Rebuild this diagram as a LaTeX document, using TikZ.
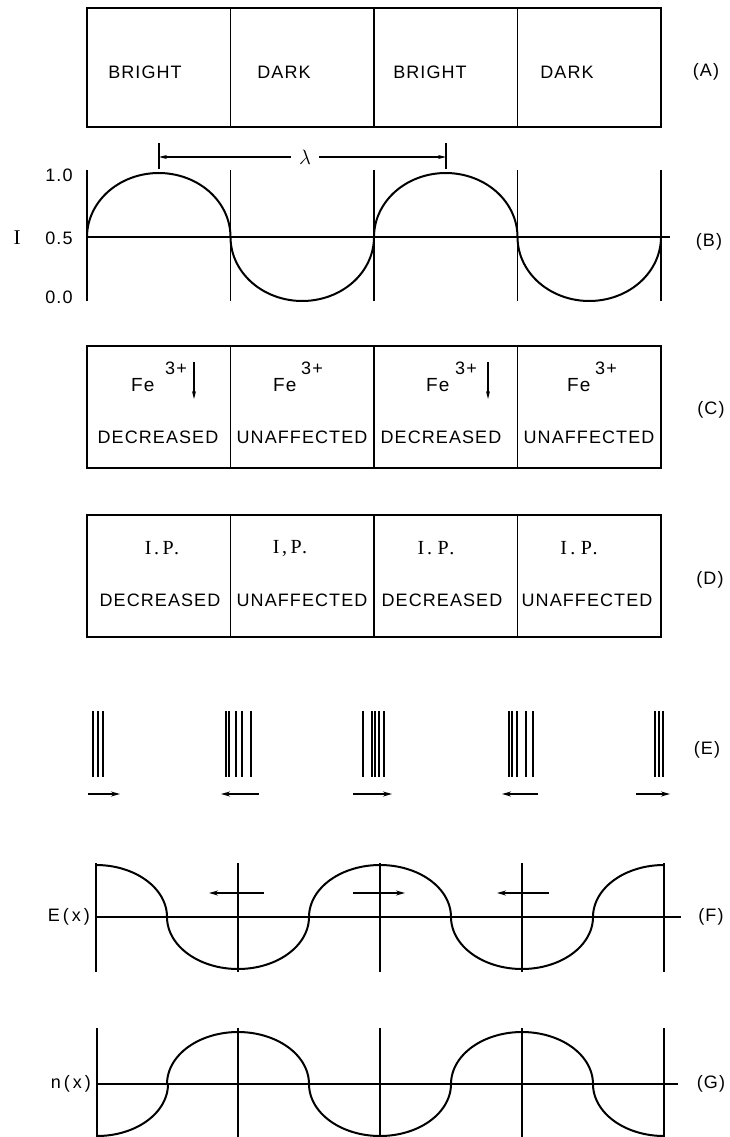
\documentclass[tikz,border=0pt]{standalone}
\usepackage{fontspec}
\setmainfont{Liberation Sans}[LetterSpace=6]
\newfontfamily\slab{Liberation Serif}[LetterSpace=14]
\usetikzlibrary{arrows.meta}

\begin{document}
\begin{tikzpicture}[x=1pt,y=-1pt,
  t/.style={font=\fontsize{18}{20}\selectfont,inner sep=0pt},
  frame/.style={line width=1.8pt},
  sep/.style={line width=1.1pt},
  ax/.style={line width=1.6pt},
  c/.style={line width=2pt},
  a/.style={-{Stealth[length=9pt,width=5pt]},line width=1.8pt},
  dn/.style={-{Stealth[length=8pt,width=4pt]},line width=1.2pt}
]
\useasboundingbox (0,0) rectangle (729,1137);

% (A) bright/dark bands
\draw[frame] (87,8) rectangle (661,127);
\foreach \x in {230.5,374,517.5} \draw[sep] (\x,8) -- (\x,127);
\foreach \i/\x/\s in {1/145/BRIGHT,2/284/DARK,3/430/BRIGHT,4/567/DARK}
  \node[t] (a\i) at (\x,72) {\s};
\node[t] (tA) at (706,72) {(A)};

% (B) intensity
\foreach \x in {87,230.5,374,517.5,661} \draw[sep] (\x,170) -- (\x,301);
\draw[ax] (87,237) -- (670,237);
\foreach \m/\s in {158.75/1,302.25/-1,445.75/1,589.25/-1}
  \draw[c] plot[domain=180:0,samples=60] ({\m+71.75*cos(\x)},{237-\s*64*sin(\x)});
\node[t] (v1) at (59,175) {1.0};
\node[t] (v2) at (59,238) {0.5};
\node[t] (v3) at (59,297) {0.0};
\node[t,font=\slab\fontsize{21}{22}\selectfont] (yI) at (17,238) {I};
\node[t] (tB) at (709,242) {(B)};
\coordinate (lamL) at (159,157);
\coordinate (lamR) at (446,157);
\draw[sep] (159,143) -- (159,169);
\draw[sep] (446,143) -- (446,169);
\node[t,minimum width=28pt,font=\fontsize{20}{20}\selectfont] (lam) at (305,157) {$\lambda$};
\draw[dn] (lam) -- (lamL);
\draw[dn] (lam) -- (lamR);

% (C) Fe3+
\draw[frame] (87,346) rectangle (661,468);
\foreach \x in {230.5,374,517.5} \draw[sep] (\x,346) -- (\x,468);
\foreach \i/\x/\y in {1/131/165,2/273/301,3/426/455,4/567/595}{
  \node[t,anchor=base west,font=\fontsize{19}{20}\selectfont] (fe\i) at (\x,391) {Fe};
  \node[t,anchor=base west] (ch\i) at (\y,374) {3+};
}
\draw[dn] (194,362) -- (194,399);
\draw[dn] (488,362) -- (488,399);
\foreach \i/\x/\s in {1/158/DECREASED,2/302/UNAFFECTED,3/441/DECREASED,4/589/UNAFFECTED}
  \node[t] (c\i) at (\x,437) {\s};
\node[t] (tC) at (711,410) {(C)};

% (D) I.P.
\draw[frame] (87,515) rectangle (661,637);
\foreach \x in {230.5,374,517.5} \draw[sep] (\x,515) -- (\x,637);
\foreach \i/\x/\s in {1/162/{I.\,P.},2/290/{I,\,P.},3/436/{I.\;P.},4/579/{I\,.\;P.}}
  \node[t,font=\slab\fontsize{20}{20}\selectfont] (ip\i) at (\x,548) {\s};
\foreach \i/\x/\s in {1/160/DECREASED,2/302/UNAFFECTED,3/442/DECREASED,4/587/UNAFFECTED}
  \node[t] (d\i) at (\x,600) {\s};
\node[t] (tD) at (710,580) {(D)};

% (E) line bundles
\foreach \x in {93,98,103,226,229,236,242,251,363,372,375,379,384,509,512,517,526,533,655,659,663}
  \draw[sep] (\x,711) -- (\x,777);
\draw[a] (88,794) -- (120,794);
\draw[a] (259,794) -- (221,794);
\draw[a] (353,794) -- (392,794);
\draw[a] (538,794) -- (502,794);
\draw[a] (636,794) -- (670,794);
\node[t] (tE) at (707,750) {(E)};

% (F) E(x)
\foreach \x in {96,238,380,522,664} \draw[sep] (\x,863) -- (\x,972);
\draw[ax] (96,917) -- (681,917);
\draw[c] plot[domain=90:0,samples=40] ({96+71*cos(\x)},{917-52*sin(\x)});
\foreach \m/\s in {238/-1,380/1,522/-1}
  \draw[c] plot[domain=180:0,samples=60] ({\m+71*cos(\x)},{917-\s*52*sin(\x)});
\draw[c] plot[domain=180:90,samples=40] ({664+71*cos(\x)},{917-52*sin(\x)});
\draw[a] (264,893) -- (209,893);
\draw[a] (353,893) -- (405,893);
\draw[a] (549,893) -- (497,893);
\node[t,anchor=east] (lE) at (90,917) {E\,(\,x\,)};
\node[t] (tF) at (711,917) {(F)};

% (G) n(x)
\foreach \x in {97,238,380,522,664} \draw[sep] (\x,1028) -- (\x,1137);
\draw[ax] (97,1084) -- (678,1084);
\draw[c] plot[domain=90:0,samples=40] ({97+71*cos(\x)},{1084+52*sin(\x)});
\foreach \m/\s in {238/1,380/-1,522/1}
  \draw[c] plot[domain=180:0,samples=60] ({\m+71*cos(\x)},{1084-\s*52*sin(\x)});
\draw[c] plot[domain=180:90,samples=40] ({664+71*cos(\x)},{1084+52*sin(\x)});
\node[t,anchor=east] (lG) at (91,1084) {n\,(\,x\,)};
\node[t] (tG) at (711,1084) {(G)};
\end{tikzpicture}
\end{document}
